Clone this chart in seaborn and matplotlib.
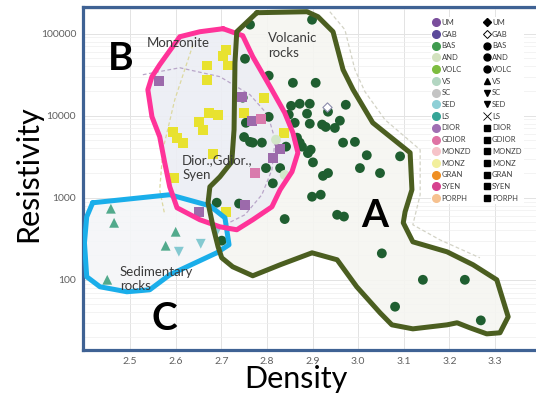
import numpy as np
import pandas as pd
import matplotlib.pyplot as plt
import seaborn as sns
from matplotlib.lines import Line2D

# ---------------- data ----------------
groups = ['UM', 'GAB', 'BAS', 'AND', 'VOLC', 'VS', 'SC', 'SED', 'LS', 'DIOR',
          'GDIOR', 'MONZD', 'MONZ', 'GRAN', 'SYEN', 'PORPH']
legend_colors = ['#7a4e9c', '#5b4a9a', '#3f9b4f', '#d3e2bf', '#7dbd3f', '#b3d6c2',
                 '#c4c4c4', '#8ecfd6', '#35a597', '#a06fb3', '#df72a4', '#f6c3c9',
                 '#f2ef9c', '#ef8f23', '#d6418f', '#f6c18f']
legend_shapes = ['D', 'D', 'o', 'o', 'o', '^', 'v', 'v', 'x', 's',
                 's', 's', 's', 's', 's', 's']

# volcanic rocks (dark green circles)
bas_den = [2.763, 2.899, 2.752, 2.804, 2.857, 2.907, 2.747, 2.853, 2.872, 2.894,
           2.973, 2.934, 2.848, 2.888, 2.804, 2.960, 2.754, 2.861, 2.894, 2.921,
           2.929, 2.949, 2.750, 2.763, 2.769, 2.789, 2.866, 2.872, 2.877, 2.896,
           2.967, 2.993, 2.842, 2.890, 3.019, 3.092, 2.901, 2.798, 2.829, 3.004,
           2.934, 2.923, 3.048, 2.813, 2.899, 2.918, 2.690, 2.739, 2.839, 2.954,
           2.969, 2.701, 3.052, 3.142, 3.234, 3.081, 3.269]
bas_res = [129000, 148000, 49500, 30800, 25200, 25200, 16600, 13200, 14000, 14000,
           13600, 11200, 10300, 10600, 9700, 8700, 8200, 8200, 8000, 7800,
           7300, 7100, 5500, 4800, 4700, 4700, 5400, 4700, 4200, 3850,
           4700, 4800, 4200, 3500, 3300, 3200, 2700, 2300, 2300, 2300,
           2000, 1850, 2000, 1500, 1030, 1090, 870, 850, 550, 620,
           590, 300, 210, 100, 100, 47, 32]

# monzonite (yellow squares)
monz_den = [2.710, 2.704, 2.714, 2.668, 2.668, 2.793, 2.673, 2.693, 2.750, 2.651,
            2.660, 2.594, 2.603, 2.616, 2.837, 2.682, 2.596, 2.710]
monz_res = [64000, 54000, 41000, 41000, 27500, 16600, 10900, 10300, 10900, 8450,
            6700, 6400, 5400, 4700, 6200, 3440, 1750, 675]

# diorite (purple squares) and granodiorite (pink squares)
dior_den = [2.563, 2.745, 2.767, 2.813, 2.829, 2.752, 2.651]
dior_res = [26700, 17100, 8700, 3080, 3960, 820, 675]
gdior_den = [2.787, 2.774]
gdior_res = [9190, 2020]

# andesite (pale green circles), gabbro (open diamond)
and_den = [2.820, 2.839]
and_res = [5100, 1900]
gab_den = [2.932]
gab_res = [12900]

# sediments: VS (up triangles), SED (down triangles)
vs_den = [2.458, 2.465, 2.600, 2.578, 2.450]
vs_res = [735, 495, 385, 260, 100]
sed_den = [2.655, 2.607, 2.690]
sed_res = [275, 220, 385]

# hand drawn outlines (density, log10 resistivity)
outline_a_den = [2.778, 2.888, 2.912, 2.945, 2.967, 2.989, 3.032, 3.114, 3.118, 3.103,
                 3.099, 3.120, 3.195, 3.252, 3.304, 3.329, 3.311, 3.282, 3.245, 3.217,
                 3.195, 3.120, 3.074, 3.048, 2.997, 2.954, 2.899, 2.829, 2.769, 2.725,
                 2.701, 2.693, 2.682, 2.671, 2.675, 2.697, 2.723, 2.728, 2.730, 2.734,
                 2.778]
outline_a_log = [5.256, 5.268, 5.207, 5.024, 4.561, 4.317, 3.915, 3.549, 3.098, 2.829,
                 2.695, 2.463, 2.341, 2.183, 2.000, 1.549, 1.354, 1.341, 1.415, 1.476,
                 1.451, 1.402, 1.451, 1.598, 1.915, 2.244, 2.329, 2.183, 2.049, 2.159,
                 2.268, 2.402, 2.646, 2.939, 3.134, 3.256, 3.439, 3.829, 4.646, 5.024,
                 5.256]
outline_b_den = [2.704, 2.747, 2.769, 2.807, 2.839, 2.857, 2.868, 2.855, 2.829, 2.811,
                 2.769, 2.734, 2.697, 2.653, 2.603, 2.587, 2.576, 2.565, 2.548, 2.539,
                 2.548, 2.565, 2.609, 2.653, 2.704]
outline_b_log = [5.061, 4.976, 4.720, 4.354, 4.037, 3.793, 3.549, 3.317, 3.098, 2.890,
                 2.732, 2.610, 2.646, 2.732, 2.878, 3.134, 3.427, 3.744, 3.988, 4.317,
                 4.476, 4.622, 4.963, 5.024, 5.061]
outline_c_den = [2.418, 2.587, 2.675, 2.708, 2.717, 2.690, 2.587, 2.543, 2.493, 2.434,
                 2.405, 2.400, 2.405, 2.418]
outline_c_log = [2.939, 3.037, 2.902, 2.756, 2.427, 2.329, 2.061, 1.878, 1.854, 1.915,
                 2.037, 2.451, 2.768, 2.939]

# faint dashed group boundaries
dash_dior_den = [2.528, 2.609, 2.697, 2.763, 2.802, 2.818, 2.811, 2.789, 2.752, 2.708]
dash_dior_log = [4.500, 4.585, 4.476, 4.256, 4.012, 3.707, 3.341, 3.037, 2.793, 2.671]
dash_monz_den = [2.638, 2.598, 2.572, 2.565, 2.576]
dash_monz_log = [4.866, 4.195, 3.585, 3.098, 2.793]
dash_volc_den = [2.938, 2.971, 2.993, 3.015, 3.059, 3.136, 3.136, 3.120, 3.179, 3.267]
dash_volc_log = [5.268, 5.049, 4.561, 4.293, 3.951, 3.585, 3.037, 2.671, 2.488, 2.268]

# ---------------- table for seaborn ----------------
parts = [('BAS', bas_den, bas_res), ('MONZ', monz_den, monz_res),
         ('DIOR', dior_den, dior_res), ('GDIOR', gdior_den, gdior_res),
         ('AND', and_den, and_res), ('VS', vs_den, vs_res), ('SED', sed_den, sed_res)]
df = pd.concat([pd.DataFrame({'density': d, 'resistivity': r, 'rock': g})
                for g, d, r in parts], ignore_index=True)

palette = {'BAS': '#1f5e30', 'MONZ': '#e8e22f', 'DIOR': '#9c6aab', 'GDIOR': '#d97bad',
           'AND': '#d2e6c8', 'VS': '#52aa8c', 'SED': '#84c9d1'}
markers = {'BAS': 'o', 'MONZ': 's', 'DIOR': 's', 'GDIOR': 's',
           'AND': 'o', 'VS': '^', 'SED': 'v'}

sns.set_style('white')
plt.rcParams['font.family'] = ['Lato', 'DejaVu Sans']

fig = plt.figure(figsize=(5.36, 3.98), dpi=100)
ax = fig.add_axes([0.155, 0.121, 0.845, 0.862])

ax.set_yscale('log')
ax.set_xlim(2.397, 3.39)
ax.set_ylim(14, 213000)

# light background grid
ax.grid(True, which='major', color='#e3e3e3', lw=0.7, zorder=0)
ax.grid(True, which='minor', axis='y', color='#eeeeee', lw=0.5, zorder=0)
ax.set_axisbelow(True)

def logpath(den, lg):
    return np.array(den), 10 ** np.array(lg)

# faint fills behind the points
for den, lg, fc in [(outline_a_den, outline_a_log, '#f5f5f1'),
                    (outline_b_den, outline_b_log, '#eceef4'),
                    (outline_c_den, outline_c_log, '#f4f6f8')]:
    xx, yy = logpath(den, lg)
    ax.fill(xx, yy, color=fc, alpha=0.9, zorder=1, lw=0)

for den, lg, col in [(dash_dior_den, dash_dior_log, '#b9a6c9'),
                     (dash_monz_den, dash_monz_log, '#dcd8a0'),
                     (dash_volc_den, dash_volc_log, '#d3d3c6')]:
    xx, yy = logpath(den, lg)
    ax.plot(xx, yy, ls=(0, (3, 2)), color=col, lw=0.9, zorder=1.5)

sns.scatterplot(data=df, x='density', y='resistivity', hue='rock', style='rock',
                palette=palette, markers=markers, s=50, edgecolor='none',
                legend=False, ax=ax, zorder=3)
ax.scatter(gab_den, gab_res, marker='D', s=22, facecolors='white',
           edgecolors='#8c8cab', linewidths=0.8, zorder=3)

# hand drawn outlines
for den, lg, col in [(outline_c_den, outline_c_log, '#1aaeea'),
                     (outline_b_den, outline_b_log, '#ff3399'),
                     (outline_a_den, outline_a_log, '#4b5e20')]:
    xx, yy = logpath(den, lg)
    ax.plot(xx, yy, color=col, lw=3.6, solid_joinstyle='round', zorder=4)

# annotations
txt = dict(fontsize=9.5, color='#3a3a3a', zorder=5)
ax.text(2.537, 69300, 'Monzonite', ha='left', va='baseline', **txt)
ax.text(2.802, 10 ** 5.024, 'Volcanic\nrocks', ha='left', va='top', linespacing=1.3, **txt)
ax.text(2.614, 10 ** 3.537, 'Dior.,Gdior.,\nSyen', ha='left', va='top', linespacing=1.3, **txt)
ax.text(2.478, 10 ** 2.171, 'Sedimentary\nrocks', ha='left', va='top', linespacing=1.2, **txt)

big = dict(fontsize=28, fontweight='bold', color='black', ha='center',
           va='center_baseline', zorder=5)
ax.text(3.037, 10 ** 2.817, 'A', **big)
ax.text(2.480, 10 ** 4.732, 'B', **big)
ax.text(2.576, 10 ** 1.561, 'C', **big)

# axes, ticks and frame
ax.set_xticks([2.5, 2.6, 2.7, 2.8, 2.9, 3.0, 3.1, 3.2, 3.3])
ax.set_xticklabels(['2.5', '2.6', '2.7', '2.8', '2.9', '3.0', '3.1', '3.2', '3.3'])
ax.set_yticks([100, 1000, 10000, 100000])
ax.set_yticklabels(['100', '1000', '10000', '100000'])
ax.yaxis.set_minor_locator(plt.matplotlib.ticker.LogLocator(base=10, subs=np.arange(2, 10)))
ax.yaxis.set_minor_formatter(plt.NullFormatter())
ax.tick_params(which='both', length=0, labelsize=7.5, labelcolor='#606060', pad=5)

ax.set_xlabel('Density', fontsize=22, color='black')
ax.set_ylabel('Resistivity', fontsize=22, color='black')
ax.xaxis.set_label_coords(0.47, -0.045)
ax.yaxis.set_label_coords(-0.09, 0.513)

for side in ['left', 'top', 'bottom']:
    ax.spines[side].set_color('#3f6294')
    ax.spines[side].set_linewidth(2.3)
ax.spines['right'].set_visible(False)

# legend: colour column and symbol column
handles = [Line2D([], [], marker='o', ls='', color=c, markersize=5.5) for c in legend_colors]
for g, m in zip(groups, legend_shapes):
    if g == 'GAB':
        handles.append(Line2D([], [], marker=m, ls='', markeredgecolor='black',
                              markerfacecolor='white', markersize=4.5, markeredgewidth=0.7))
    elif m == 'x':
        handles.append(Line2D([], [], marker=m, ls='', color='black',
                              markersize=6, markeredgewidth=0.6))
    else:
        handles.append(Line2D([], [], marker=m, ls='', color='black',
                              markersize=5 if m != 'D' else 4.5))
leg = ax.legend(handles, groups + groups, ncol=2, loc='upper left',
                bbox_to_anchor=(0.797, 0.968), bbox_transform=fig.transFigure,
                fontsize=5.5, frameon=True, fancybox=False, edgecolor='none',
                facecolor='white', framealpha=1, handlelength=0.8,
                handletextpad=0.3, labelspacing=0.62, columnspacing=1.6,
                borderpad=0.3)
leg.set_zorder(6)
for t in leg.get_texts():
    t.set_color('#404040')

fig.savefig('out.png', dpi=100)
